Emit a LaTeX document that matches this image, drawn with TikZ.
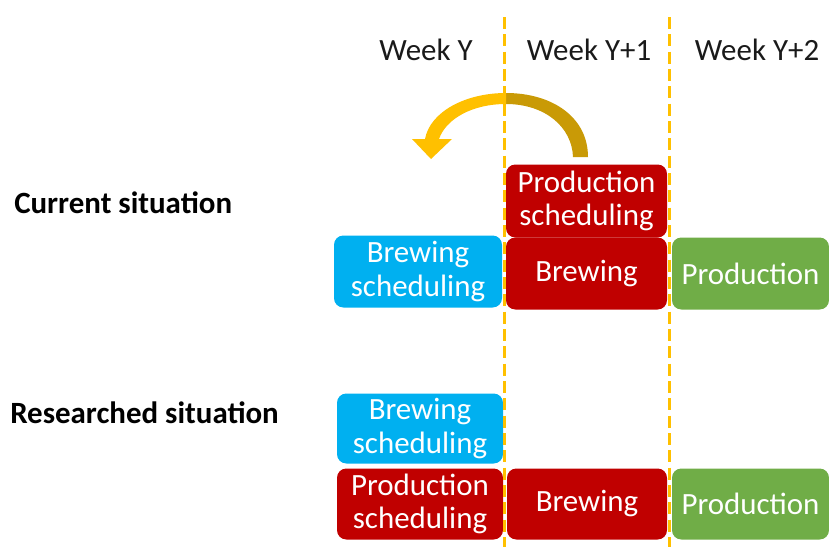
\documentclass[tikz,border=0pt]{standalone}
\usepackage{fontspec}
\setmainfont{Carlito}
\begin{document}
\begin{tikzpicture}[x=0.75pt,y=-0.75pt,
  every node/.style={font=\fontsize{23.2}{25}\selectfont},
  box/.style={rectangle, rounded corners=7pt, text=white, align=center, inner sep=0pt},
  blue box/.style={box, fill=skyblue},
  red box/.style={box, fill=darkred},
  green box/.style={box, fill=leafgreen},
  week/.style={anchor=base, text=textgray, inner sep=0pt},
  label/.style={anchor=base west, inner sep=0pt, font=\fontsize{23.2}{25}\selectfont\bfseries},
  divider/.style={draw=amber, line width=2.25pt, dash pattern=on 9pt off 4pt}]
\definecolor{skyblue}{HTML}{00B0F0}
\definecolor{darkred}{HTML}{C00000}
\definecolor{leafgreen}{HTML}{70AD47}
\definecolor{amber}{HTML}{FFC000}
\definecolor{darkamber}{HTML}{C99A06}
\definecolor{textgray}{HTML}{1A1A1A}
\useasboundingbox (0,0) rectangle (829,547);

% column headings
\node[week] (wk0) at (426,60) {Week Y};
\node[week] (wk1) at (589,60) {Week Y+1};
\node[week] (wk2) at (757,60) {Week Y+2};

% row labels
\node[label] (cur) at (14,213) {Current situation};
\node[label] (res) at (10,423) {Researched situation};

% curved arrow: dark back half, bright front half with head
\fill[darkamber] (506,93) .. controls (552,93) and (588,117) .. (588,157)
  -- (573,157) .. controls (572,127) and (545,104) .. (506,104) -- cycle;
\fill[amber] (506,93) .. controls (465,93) and (430,112) .. (425,139)
  -- (412,139) -- (431,159) -- (452,139) -- (439,139)
  .. controls (446,119) and (472,104) .. (506,104) -- cycle;

% current situation
\node[red box, minimum width=120.75pt, minimum height=54.75pt] (ps1) at (586.5,201) {Production\\scheduling};
\node[red box, minimum width=120.75pt, minimum height=54pt] (br1) at (586.5,273.5) {Brewing};
\node[blue box, minimum width=126pt, minimum height=54pt] (bs1) at (418,271.5) {Brewing\\scheduling};
\node[green box, minimum width=117.75pt, minimum height=54pt] (pr1) at (750.5,273.5) {Production};

% researched situation
\node[blue box, minimum width=124.5pt, minimum height=52.5pt] (bs2) at (420,428.5) {Brewing\\scheduling};
\node[red box, minimum width=124.5pt, minimum height=53.25pt] (ps2) at (420,504) {Production\\scheduling};
\node[red box, minimum width=120pt, minimum height=53.25pt] (br2) at (587,504) {Brewing};
\node[green box, minimum width=117.75pt, minimum height=53.25pt] (pr2) at (750.5,504) {Production};

% week boundaries
\coordinate (d1t) at (504,17);
\coordinate (d1b) at (504,547);
\coordinate (d2t) at (669,17);
\coordinate (d2b) at (669,547);
\draw[divider] (d1t) -- (d1b);
\draw[divider] (d2t) -- (d2b);
\end{tikzpicture}
\end{document}
